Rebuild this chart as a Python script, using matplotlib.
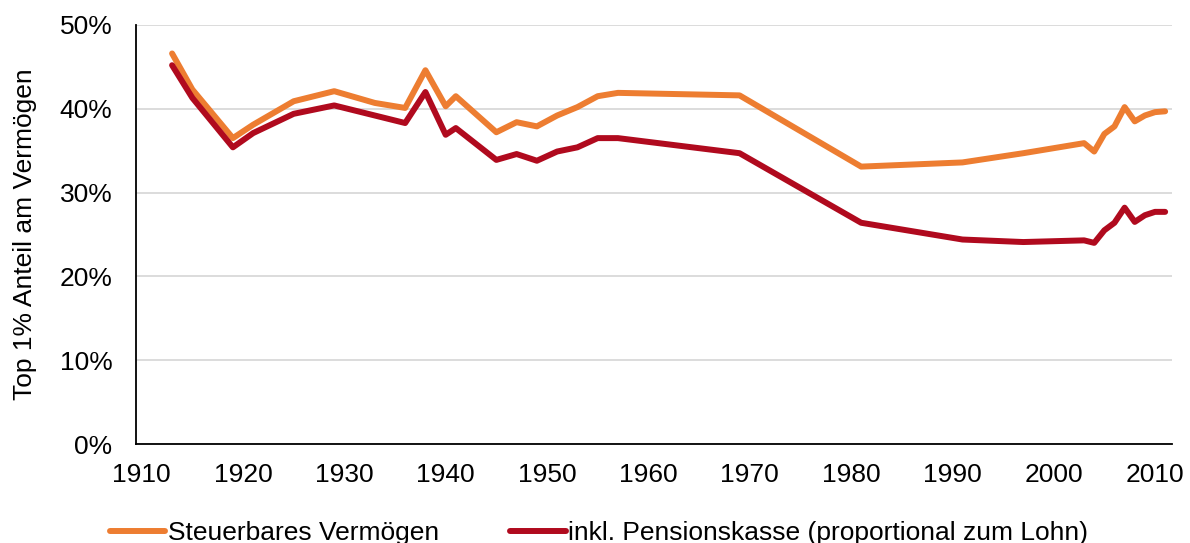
import matplotlib.pyplot as plt
from matplotlib.ticker import FuncFormatter

plt.rcParams['font.family'] = ['Liberation Sans', 'DejaVu Sans']

# Daten
jahre = [1913, 1915, 1919, 1921, 1925, 1929, 1933, 1936, 1938, 1940, 1941,
         1945, 1947, 1949, 1951, 1953, 1955, 1957, 1969, 1981, 1991, 1997,
         2003, 2004, 2005, 2006, 2007, 2008, 2009, 2010, 2011]
steuerbar = [46.6, 42.3, 36.5, 38.1, 40.9, 42.1, 40.7, 40.1, 44.6, 40.3, 41.5,
             37.2, 38.4, 37.9, 39.2, 40.2, 41.5, 41.9, 41.6, 33.1, 33.6, 34.7,
             35.9, 34.9, 37.0, 37.9, 40.2, 38.5, 39.2, 39.6, 39.7]
pensionskasse = [45.2, 41.3, 35.4, 37.1, 39.4, 40.4, 39.2, 38.3, 42.0, 36.9, 37.7,
                 33.9, 34.6, 33.8, 34.9, 35.4, 36.5, 36.5, 34.7, 26.4, 24.4, 24.1,
                 24.3, 24.0, 25.5, 26.4, 28.2, 26.5, 27.3, 27.7, 27.7]
x_ticks = list(range(1910, 2011, 10))
y_ticks = [0, 10, 20, 30, 40, 50]

fig = plt.figure(figsize=(11.9, 5.43), dpi=100)
ax = fig.add_axes([0.1143, 0.1823, 0.8706, 0.7717])

ax.plot(jahre, steuerbar, color='#ED7D31', lw=4.3, solid_capstyle='round',
        solid_joinstyle='round', label='Steuerbares Vermögen')
ax.plot(jahre, pensionskasse, color='#B00A1E', lw=4.3, solid_capstyle='round',
        solid_joinstyle='round', label='inkl. Pensionskasse (proportional zum Lohn)')

ax.set_xlim(1909.44, 2011.68)
ax.set_ylim(0, 50)
ax.set_xticks(x_ticks)
ax.set_yticks(y_ticks)
ax.yaxis.set_major_formatter(FuncFormatter(lambda v, p: f"{v:.0f}%"))
ax.tick_params(length=0, labelsize=19)
ax.tick_params(axis='y', pad=17)
ax.tick_params(axis='x', pad=14)
ax.grid(axis='y', color='#D9D9D9', lw=1.3)
ax.set_axisbelow(True)
for s in ['top', 'right']:
    ax.spines[s].set_visible(False)
for s in ['left', 'bottom']:
    ax.spines[s].set_color('black')
    ax.spines[s].set_linewidth(1.3)
ax.set_ylabel('Top 1% Anteil am Vermögen', fontsize=19, labelpad=16)

fig.legend(loc='center left', bbox_to_anchor=(110 / 1190, 10 / 543), ncol=2, frameon=False,
           fontsize=19, handlelength=2.1, handletextpad=0.1, columnspacing=2.7,
           borderpad=0, borderaxespad=0)

fig.savefig('out.png', dpi=100)
